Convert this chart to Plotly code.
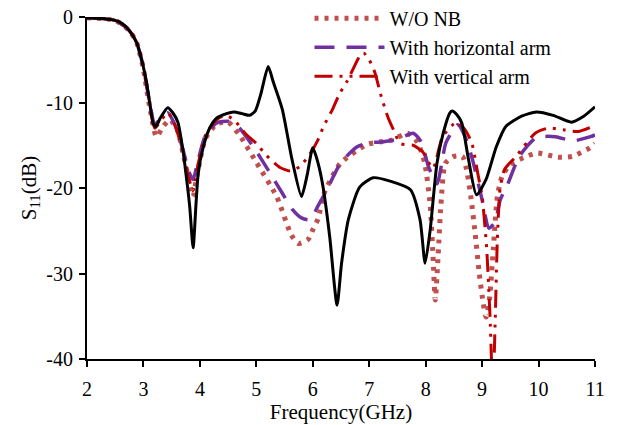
import plotly.graph_objects as go

# ---- data ----
x_black = [2.0, 2.3, 2.5, 2.63, 2.75, 2.88, 2.99, 3.05, 3.11, 3.17, 3.22, 3.3, 3.43, 3.52, 3.61, 3.7, 3.76,
           3.82, 3.88, 3.93, 3.97, 4.06, 4.18, 4.3, 4.47, 4.6, 4.75, 4.88, 4.98, 5.08, 5.21, 5.3, 5.46,
           5.63, 5.8, 5.9, 6.0, 6.09, 6.18, 6.3, 6.43, 6.51, 6.63, 6.83, 7.07, 7.37, 7.73, 7.9, 7.99,
           8.08, 8.2, 8.31, 8.43, 8.47, 8.55, 8.64, 8.76, 8.9, 9.07, 9.25, 9.42, 9.7, 9.96, 10.26,
           10.58, 10.8, 11.0]
y_black = [-0.1, -0.2, -0.4, -0.8, -1.6, -3.0, -5.6, -7.5, -10.0, -12.4, -12.8, -11.8, -10.6, -11.2, -12.3,
           -15.6, -18.7, -22.2, -27.0, -22.0, -18.3, -15.2, -12.9, -11.8, -11.3, -11.1, -11.3, -11.5,
           -11.0, -9.0, -5.8, -7.6, -10.8, -16.6, -21.0, -18.5, -15.3, -17.0, -19.8, -25.7, -33.7, -28.8,
           -23.7, -19.9, -18.8, -19.2, -20.2, -23.7, -28.8, -24.9, -17.1, -13.6, -11.2, -11.0, -11.4,
           -12.4, -16.7, -20.8, -19.0, -15.2, -12.8, -11.6, -11.1, -11.5, -12.3, -11.6, -10.5]

x_horiz = [2.0, 2.5, 2.75, 2.88, 2.99, 3.11, 3.2, 3.3, 3.43, 3.55, 3.7, 3.8, 3.88, 3.96, 4.1, 4.3, 4.5,
           4.7, 4.95, 5.2, 5.45, 5.65, 5.8, 5.95, 6.1, 6.25, 6.49, 6.78, 7.0, 7.25, 7.5, 7.78, 7.92, 8.05,
           8.2, 8.36, 8.57, 8.7, 8.83, 9.0, 9.12, 9.23, 9.32, 9.45, 9.66, 9.96, 10.3, 10.6, 10.92, 11.0]
y_horiz = [-0.1, -0.4, -1.6, -3.0, -5.6, -10.0, -12.5, -12.0, -11.2, -12.5, -15.5, -18.0, -19.0, -17.0,
           -13.8, -12.4, -12.2, -13.0, -15.2, -17.8, -20.5, -22.6, -23.5, -23.7, -22.0, -20.2, -17.1,
           -15.2, -14.7, -14.6, -14.3, -13.6, -14.6, -17.5, -19.5, -14.7, -12.6, -14.0, -16.7, -21.4,
           -24.7, -24.0, -21.4, -19.6, -16.3, -14.1, -14.0, -14.5, -14.0, -13.8]

x_vert = [2.0, 2.5, 2.75, 2.88, 2.99, 3.11, 3.2, 3.3, 3.43, 3.55, 3.7, 3.8, 3.88, 3.96, 4.1, 4.3, 4.45,
          4.6, 4.8, 5.0, 5.18, 5.42, 5.6, 5.77, 5.95, 6.09, 6.19, 6.35, 6.48, 6.6, 6.72, 6.83, 6.9, 7.0,
          7.1, 7.2, 7.33, 7.43, 7.55, 7.78, 7.95, 8.13, 8.3, 8.55, 8.7, 8.82, 8.92, 9.0, 9.08, 9.14,
          9.19, 9.23, 9.27, 9.32, 9.4, 9.6, 9.94, 10.17, 10.44, 10.7, 11.0]
y_vert = [-0.1, -0.4, -1.6, -3.0, -5.6, -10.0, -13.0, -12.2, -11.2, -12.5, -15.8, -18.8, -20.3, -17.5,
          -13.8, -12.0, -11.5, -12.0, -13.6, -14.8, -16.2, -17.6, -18.0, -17.5, -16.0, -14.4, -12.8,
          -10.8, -8.9, -7.6, -6.0, -4.6, -4.2, -5.0, -6.5, -9.0, -11.7, -13.2, -14.8, -15.0, -15.8,
          -17.7, -14.0, -12.3, -13.2, -14.8, -18.2, -21.0, -27.0, -35.0, -44.0, -36.0, -26.0, -20.0,
          -17.8, -16.3, -13.6, -13.0, -13.2, -13.4, -12.7]

x_wo = [2.0, 2.5, 2.75, 2.88, 2.99, 3.11, 3.23, 3.35, 3.47, 3.6, 3.72, 3.82, 3.88, 3.95, 4.1, 4.3, 4.5,
        4.7, 5.0, 5.36, 5.62, 5.74, 5.92, 6.0, 6.1, 6.19, 6.49, 6.96, 7.2, 7.4, 7.68, 7.85, 7.98, 8.08,
        8.13, 8.17, 8.22, 8.27, 8.35, 8.5, 8.65, 8.72, 8.8, 8.88, 8.95, 9.02, 9.07, 9.13, 9.2, 9.27,
        9.35, 9.49, 9.79, 9.97, 10.35, 10.6, 10.91, 11.0]
y_wo = [-0.1, -0.4, -1.6, -3.0, -5.8, -10.5, -14.0, -12.8, -12.0, -13.2, -16.5, -19.5, -21.0, -18.5,
        -14.2, -12.5, -12.3, -13.8, -17.0, -21.0, -25.5, -26.5, -26.0, -24.9, -23.5, -20.8, -17.1,
        -14.9, -14.6, -14.4, -13.6, -14.6, -17.0, -22.0, -28.0, -33.1, -28.0, -22.0, -17.1, -16.3,
        -16.3, -17.7, -21.0, -25.5, -30.0, -33.5, -35.1, -33.0, -27.0, -21.0, -18.7, -17.3, -16.3,
        -15.9, -16.4, -16.3, -15.3, -14.8]

x_ticks = [2, 3, 4, 5, 6, 7, 8, 9, 10, 11]
y_ticks = [-40, -30, -20, -10, 0]

FONT = "Times New Roman, Liberation Serif, serif"

fig = go.Figure()
fig.add_trace(go.Scatter(x=x_wo, y=y_wo, mode="lines", name="W/O NB",
                         line=dict(color="#C0504D", width=5, dash="4px,6px", shape="spline", smoothing=0.6)))
fig.add_trace(go.Scatter(x=x_horiz, y=y_horiz, mode="lines", name="With horizontal arm",
                         line=dict(color="#7030A0", width=3.5, dash="20px,12px", shape="spline", smoothing=0.6)))
fig.add_trace(go.Scatter(x=x_vert, y=y_vert, mode="lines", name="With vertical arm",
                         line=dict(color="#C00000", width=3, dash="18px,7px,3px,7px,3px,7px",
                                   shape="spline", smoothing=0.6)))
fig.add_trace(go.Scatter(x=x_black, y=y_black, mode="lines", showlegend=False,
                         line=dict(color="black", width=3, shape="spline", smoothing=0.6)))

fig.update_layout(
    width=617, height=425,
    margin=dict(l=79, r=30, t=9, b=74, autoexpand=False),
    paper_bgcolor="white", plot_bgcolor="white",
    font=dict(family=FONT, size=21, color="black"),
    legend=dict(x=0.438, y=1.053, xanchor="left", yanchor="top", bgcolor="rgba(0,0,0,0)",
                font=dict(family=FONT, size=20), itemwidth=70, tracegroupgap=0),
    xaxis=dict(range=[2, 11], tickvals=x_ticks, ticktext=[str(v) for v in x_ticks],
               showgrid=False, zeroline=False, showline=True, linecolor="black", linewidth=2,
               ticks="outside", ticklen=6, tickwidth=2, tickcolor="black", automargin=False,
               ticklabelstandoff=5, ticklabeloverflow="allow",
               title=dict(text="Frequency(GHz)", font=dict(size=21), standoff=0),
               tickfont=dict(size=20)),
    yaxis=dict(range=[-40, 0], tickvals=y_ticks, ticktext=[str(v) for v in y_ticks],
               showgrid=False, zeroline=False, showline=True, linecolor="black", linewidth=2,
               ticks="outside", ticklen=6, tickwidth=2, tickcolor="black", automargin=False,
               ticklabelstandoff=2, ticklabeloverflow="allow",
               title=dict(text="S<sub>11</sub>(dB)", font=dict(size=21), standoff=4),
               tickfont=dict(size=20)),
)

fig.write_html("out.html")
